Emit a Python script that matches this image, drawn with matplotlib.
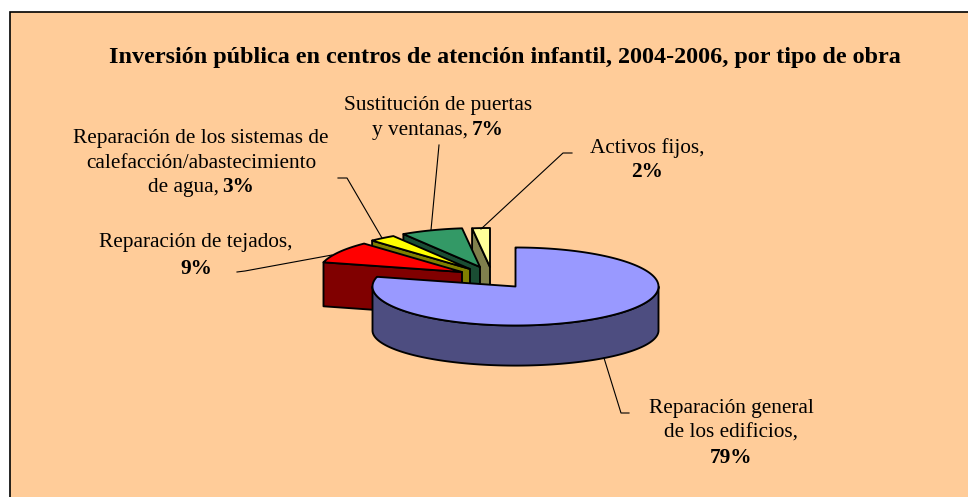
import numpy as np
import matplotlib
matplotlib.use("Agg")
import matplotlib.pyplot as plt
from matplotlib.patches import Rectangle

title = "Inversión pública en centros de atención infantil, 2004-2006, por tipo de obra"
# clockwise from 12 o'clock
categories = ["Reparación general de los edificios", "Reparación de tejados",
              "Reparación de los sistemas de calefacción/abastecimiento de agua",
              "Sustitución de puertas y ventanas", "Activos fijos"]
shares = [79, 9, 3, 7, 2]
top_colors = ["#9999FF", "#FF0000", "#FFFF00", "#339966", "#FFFF99"]
side_colors = ["#4D4D80", "#800000", "#808000", "#1A4D33", "#80804D"]

plt.rcParams['font.family'] = ['Liberation Serif', 'DejaVu Serif']
bg = "#FFCC99"
rx, ry, depth = 143, 39, 44
# where each exploded slice has its tip, in picture pixels
tips = [(515.5, 286.5), (462, 272), (470, 269), (480, 267), (490, 267)]

fig = plt.figure(figsize=(9.68, 4.97), dpi=100, facecolor="white")
ax = fig.add_axes([0, 0, 1, 1])
ax.set_xlim(0, 968)
ax.set_ylim(497, 0)
ax.axis("off")
ax.add_patch(Rectangle((9.5, 11.5), 990, 520, fc=bg, ec="black", lw=1.2, zorder=0))


def arc(tip, a0, a1):
    th = np.radians(np.linspace(a0, a1, max(int(abs(a1 - a0) * 2), 2)))
    return tip[0] + rx * np.sin(th), tip[1] - ry * np.cos(th)


def draw_slice(i, a0, a1):
    tip = tips[i]
    kw = dict(ec="black", lw=1.35, joinstyle="round")
    # radial wall on the start edge, only the slices left of the tip show it
    if i > 0:
        x0, y0 = arc(tip, a0, a0)
        ax.fill([x0[0], tip[0], tip[0], x0[0]],
                [y0[0], tip[1], tip[1] + depth, y0[0] + depth], fc=side_colors[i], **kw)
    # outer wall on the front half, bottom rim a bit flatter than the top one
    lo, hi = max(a0, 90), min(a1, 270)
    if hi > lo:
        xs, ys = arc(tip, lo, hi)
        low = tip[1] + depth + (ys - tip[1]) * 0.9
        ax.fill(np.r_[xs, xs[::-1]], np.r_[ys, low[::-1]], fc=side_colors[i], **kw)
    xs, ys = arc(tip, a0, a1)
    ax.fill(np.r_[tip[0], xs], np.r_[tip[1], ys], fc=top_colors[i], **kw)


edges = np.r_[0, np.cumsum(shares)] * 3.6
# back slices first so the big one ends on top
for i in [4, 3, 2, 1, 0]:
    draw_slice(i, edges[i], edges[i + 1])

# leader lines
leaders = [
    ([629, 621, 604], [413, 413, 358]),
    ([237, 245, 332], [272, 271, 255]),
    ([338, 347, 382], [178, 178, 238]),
    ([439, 431], [145, 230]),
    ([572, 563, 481], [153, 153, 229]),
]
for lx, ly in leaders:
    ax.plot(lx, ly, color="black", lw=0.8, zorder=1)

fs = 15.35
renderer = fig.canvas.get_renderer()


def line(cx, y, plain="", bold=""):
    # one centred line, plain part then bold part
    t1 = ax.text(0, y, plain, fontsize=fs, va="baseline", ha="left")
    t2 = ax.text(0, y, bold, fontsize=fs, fontweight="bold", va="baseline", ha="left")
    w1 = t1.get_window_extent(renderer).width if plain else 0
    w2 = t2.get_window_extent(renderer).width if bold else 0
    gap = 4 if plain and bold else 0
    left = cx - (w1 + gap + w2) / 2
    t1.set_x(left)
    t2.set_x(left + w1 + gap)


ax.text(505, 63, title, fontsize=17.35, fontweight="bold", ha="center", va="baseline")
line(438, 110, "Sustitución de puertas")
line(438, 135, "y ventanas,", "7%")
line(201, 143, "Reparación de los sistemas de")
line(201, 168, "calefacción/abastecimiento")
line(201, 192, "de agua,", "3%")
line(196, 247, "Reparación de tejados,")
line(196, 274, "", "9%")
line(647, 153, "Activos fijos,")
line(647, 177, "", "2%")
line(731, 413, "Reparación general")
line(731, 438, "de los edificios,")
line(731, 463, "", "79%")

fig.savefig("out.png", dpi=100, facecolor="white")
